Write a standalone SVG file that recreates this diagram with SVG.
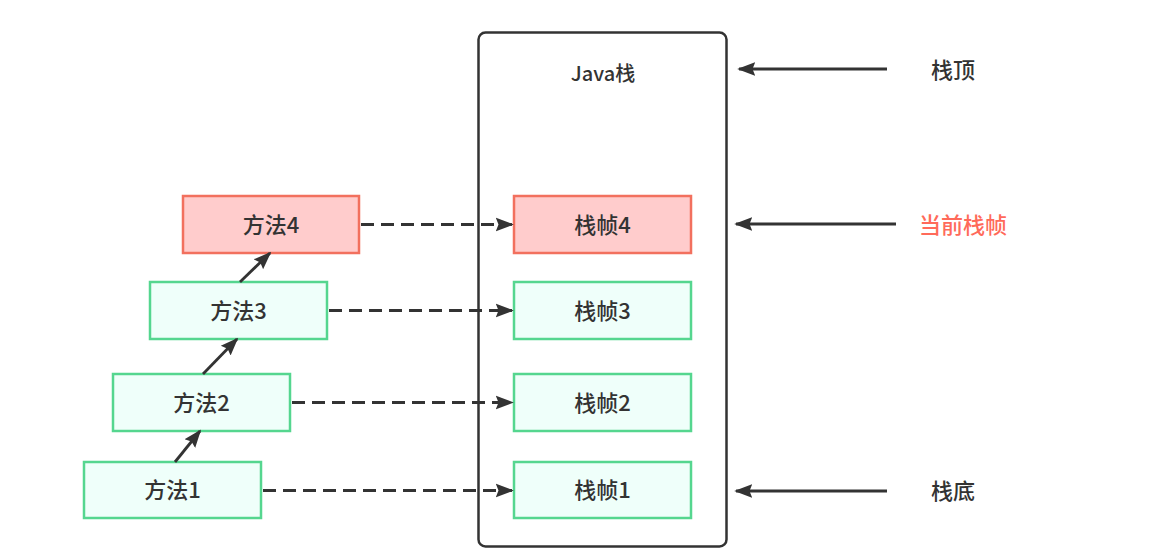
<svg xmlns="http://www.w3.org/2000/svg" width="1166" height="559" viewBox="0 0 1166 559">
<style>
text{font-family:"Noto Sans CJK SC","Noto Sans",sans-serif;fill:#333;text-anchor:middle;dominant-baseline:central}
.lbl{font-size:22px;font-weight:500}
.g{fill:#effffa;stroke:#55d68f;stroke-width:2.5}
.r{fill:#ffcccc;stroke:#f2705e;stroke-width:2.5}
.dash{stroke:#333;stroke-width:2.8;fill:none;stroke-dasharray:13 7}
.sol{stroke:#333;stroke-width:2.8;fill:none}
</style>
<defs>
<marker id="ahb" viewBox="0 0 10 10" refX="9" refY="5" markerWidth="18" markerHeight="18" markerUnits="userSpaceOnUse" orient="auto"><path d="M0,1.2 L10,5 L0,8.8 L1.5,5 Z" fill="#333"/></marker>
</defs>
<rect width="1166" height="559" fill="#fff"/>
<g id="java-stack">
<rect x="478.5" y="32.5" width="248" height="514" rx="7" fill="#fff" stroke="#333" stroke-width="2.5"/>
<text x="603" y="72" style="font-size:20px;font-weight:500">Java栈</text>
</g>
<g id="frame4"><rect class="r" x="514" y="196" width="177" height="57"/><text class="lbl" x="602.5" y="222.5">栈帧4</text></g>
<g id="frame3"><rect class="g" x="514" y="282" width="177" height="57"/><text class="lbl" x="602.5" y="308.5">栈帧3</text></g>
<g id="frame2"><rect class="g" x="514" y="374" width="177" height="57"/><text class="lbl" x="602.5" y="400.5">栈帧2</text></g>
<g id="frame1"><rect class="g" x="514" y="462" width="177" height="56"/><text class="lbl" x="602.5" y="488">栈帧1</text></g>
<g id="method4"><rect class="r" x="183" y="196" width="176" height="57"/><text class="lbl" x="271" y="222.5">方法4</text></g>
<g id="method3"><rect class="g" x="150" y="282" width="177" height="57"/><text class="lbl" x="238.5" y="308.5">方法3</text></g>
<g id="method2"><rect class="g" x="113" y="374" width="177" height="57"/><text class="lbl" x="201.5" y="400.5">方法2</text></g>
<g id="method1"><rect class="g" x="84" y="462" width="177" height="56"/><text class="lbl" x="172.5" y="488">方法1</text></g>
<g id="label-top"><text class="lbl" x="953" y="68">栈顶</text></g>
<g id="label-current"><text class="lbl" x="963" y="222.5" style="fill:#ff6a5a">当前栈帧</text></g>
<g id="label-bottom"><text class="lbl" x="953" y="489">栈底</text></g>
<g id="connectors">
<path class="dash" d="M361 224.5 H512" marker-end="url(#ahb)"/>
<path class="dash" d="M329 310.5 H512" marker-end="url(#ahb)"/>
<path class="dash" d="M292 402.5 H512" marker-end="url(#ahb)"/>
<path class="dash" d="M263 490.5 H512" marker-end="url(#ahb)"/>
<path class="sol" d="M175 462 L200 431" marker-end="url(#ahb)"/>
<path class="sol" d="M203 374 L237 339" marker-end="url(#ahb)"/>
<path class="sol" d="M240 282 L270 253" marker-end="url(#ahb)"/>
<path class="sol" d="M887 69 H739" marker-end="url(#ahb)"/>
<path class="sol" d="M896 224 H736" marker-end="url(#ahb)"/>
<path class="sol" d="M887 491 H736" marker-end="url(#ahb)"/>
</g>
</svg>
